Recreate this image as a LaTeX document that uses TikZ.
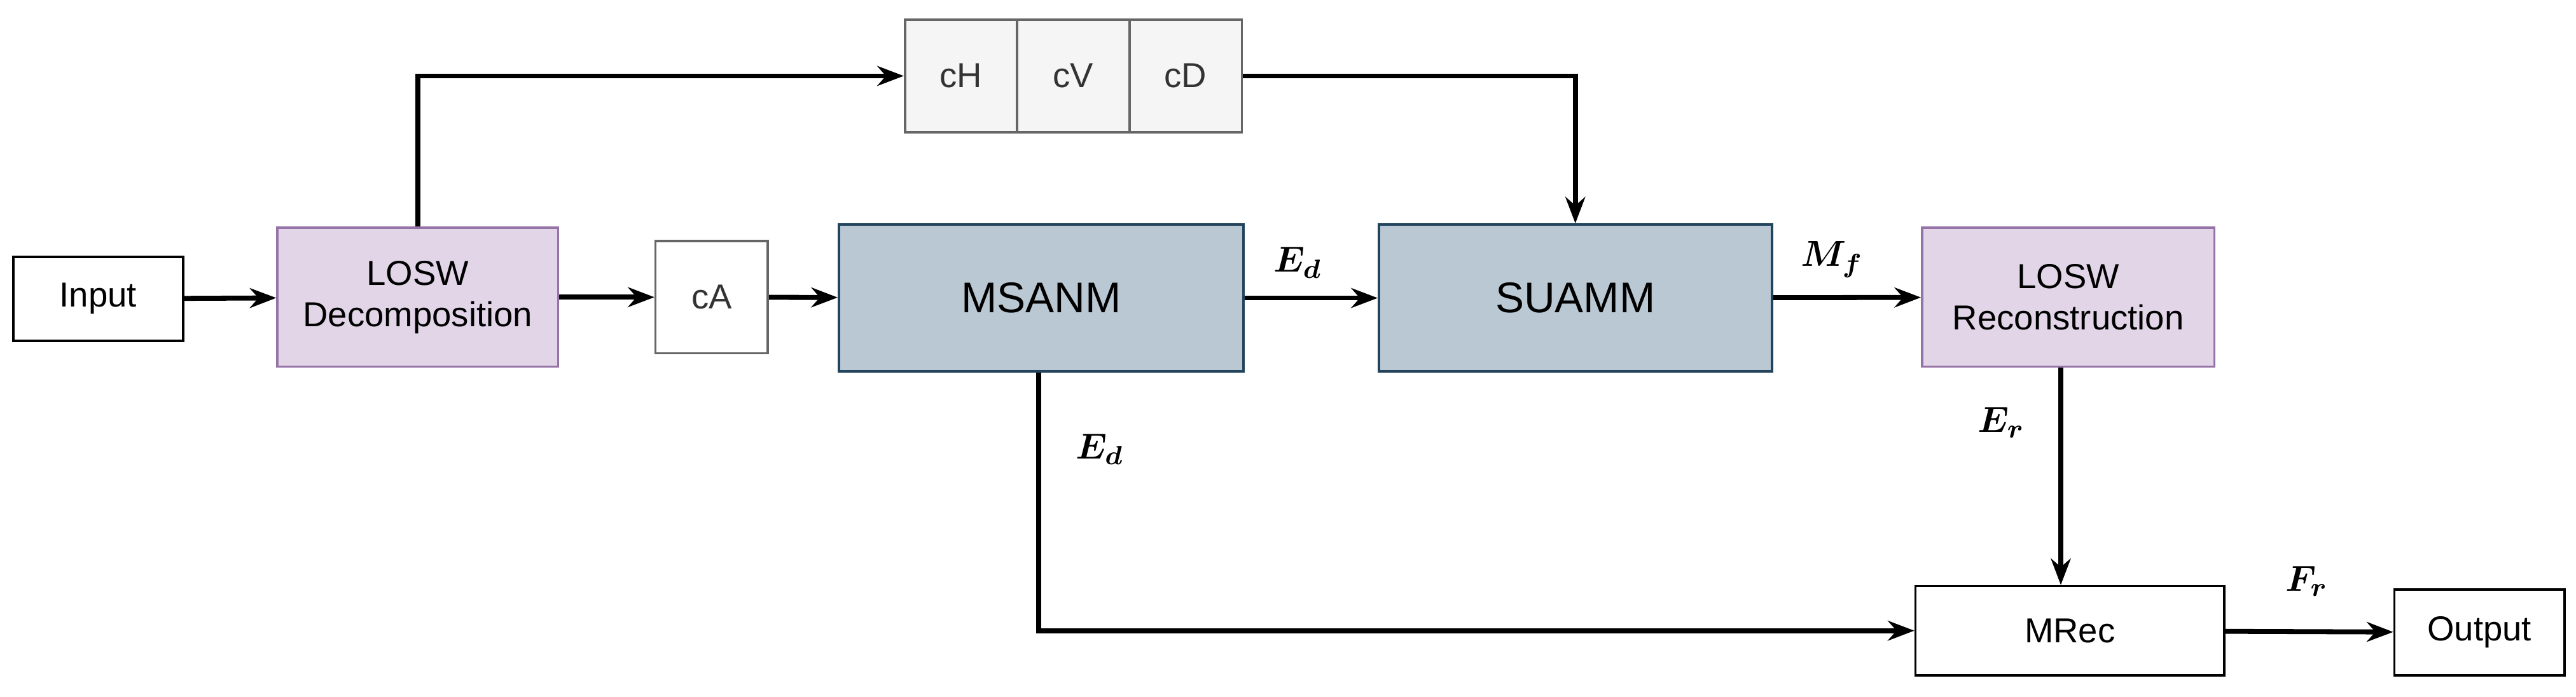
\documentclass[tikz,border=0pt]{standalone}
\usepackage{fontspec}
\setmainfont{Liberation Sans}
\usepackage{amsmath,bm}
\usetikzlibrary{arrows.meta}
\begin{document}
\begin{tikzpicture}[x=0.5pt,y=-0.5pt,
  box/.style={draw, line width=0.7pt, inner sep=0pt, align=center, font=\fontsize{10.5}{12.5}\selectfont},
  wbox/.style={box, fill=white, draw=black},
  pbox/.style={box, fill=purple!10!white, fill={rgb,255:red,225;green,213;blue,231}, draw={rgb,255:red,150;green,115;blue,166}},
  bbox/.style={box, fill={rgb,255:red,186;green,200;blue,211}, draw={rgb,255:red,35;green,68;blue,93}, font=\fontsize{13}{15}\selectfont},
  gbox/.style={box, fill={rgb,255:red,245;green,245;blue,245}, draw={rgb,255:red,102;green,102;blue,102}, text=black!80},
  arr/.style={line width=1.5pt, -{Stealth[length=8pt,width=6pt]}},
  lab/.style={font=\fontsize{11}{13}\selectfont}]
\useasboundingbox (0,0) rectangle (1560,422);
\node[wbox, minimum width=51.5pt, minimum height=25.5pt] (in) at (59.5,181) {Input};
\node[pbox, minimum width=85pt, minimum height=42pt] (ld) at (253,180) {LOSW\\Decomposition};
\node[gbox, fill=white, minimum width=34pt, minimum height=34pt] (ca) at (431,180) {cA};
\node[bbox, minimum width=122.5pt, minimum height=44.5pt] (ms) at (630.5,180.5) {MSANM};
\node[gbox, minimum width=34pt, minimum height=34pt] (ch) at (582,46) {cH};
\node[gbox, minimum width=34pt, minimum height=34pt] (cv) at (650,46) {cV};
\node[gbox, minimum width=34pt, minimum height=34pt] (cd) at (718,46) {cD};
\node[bbox, minimum width=119pt, minimum height=44.5pt] (su) at (954,180.5) {SUAMM};
\node[pbox, minimum width=88.5pt, minimum height=42pt] (lr) at (1252.5,180) {LOSW\\Reconstruction};
\node[wbox, minimum width=93.5pt, minimum height=27pt] (mr) at (1253.5,382) {MRec};
\node[wbox, minimum width=51.5pt, minimum height=26pt] (out) at (1501.5,383) {Output};
\draw[arr] (in) -- (ld);
\draw[arr] (ld) -- (ca);
\draw[arr] (ca) -- (ms);
\draw[arr] (ms) -- node[lab, above=2pt, pos=0.4] {$\bm{E_d}$} (su);
\draw[arr] (su) -- node[lab, above=2pt, pos=0.4] {$\bm{M_f}$} (lr);
\draw[arr] (ld.north) |- (ch.west);
\draw[arr] (cd.east) -| (su.north);
\draw[arr] (ms.south -| 629,0) |- (mr.west);
\node[lab] (ed2) at (666,272) {$\bm{E_d}$};
\draw[arr] (lr.south -| 1248,0) -- (mr.north -| 1248,0);
\node[lab] (er) at (1212,256) {$\bm{E_r}$};
\draw[arr] (mr) -- (out);
\node[lab] (fr) at (1397,352) {$\bm{F_r}$};
\end{tikzpicture}
\end{document}
